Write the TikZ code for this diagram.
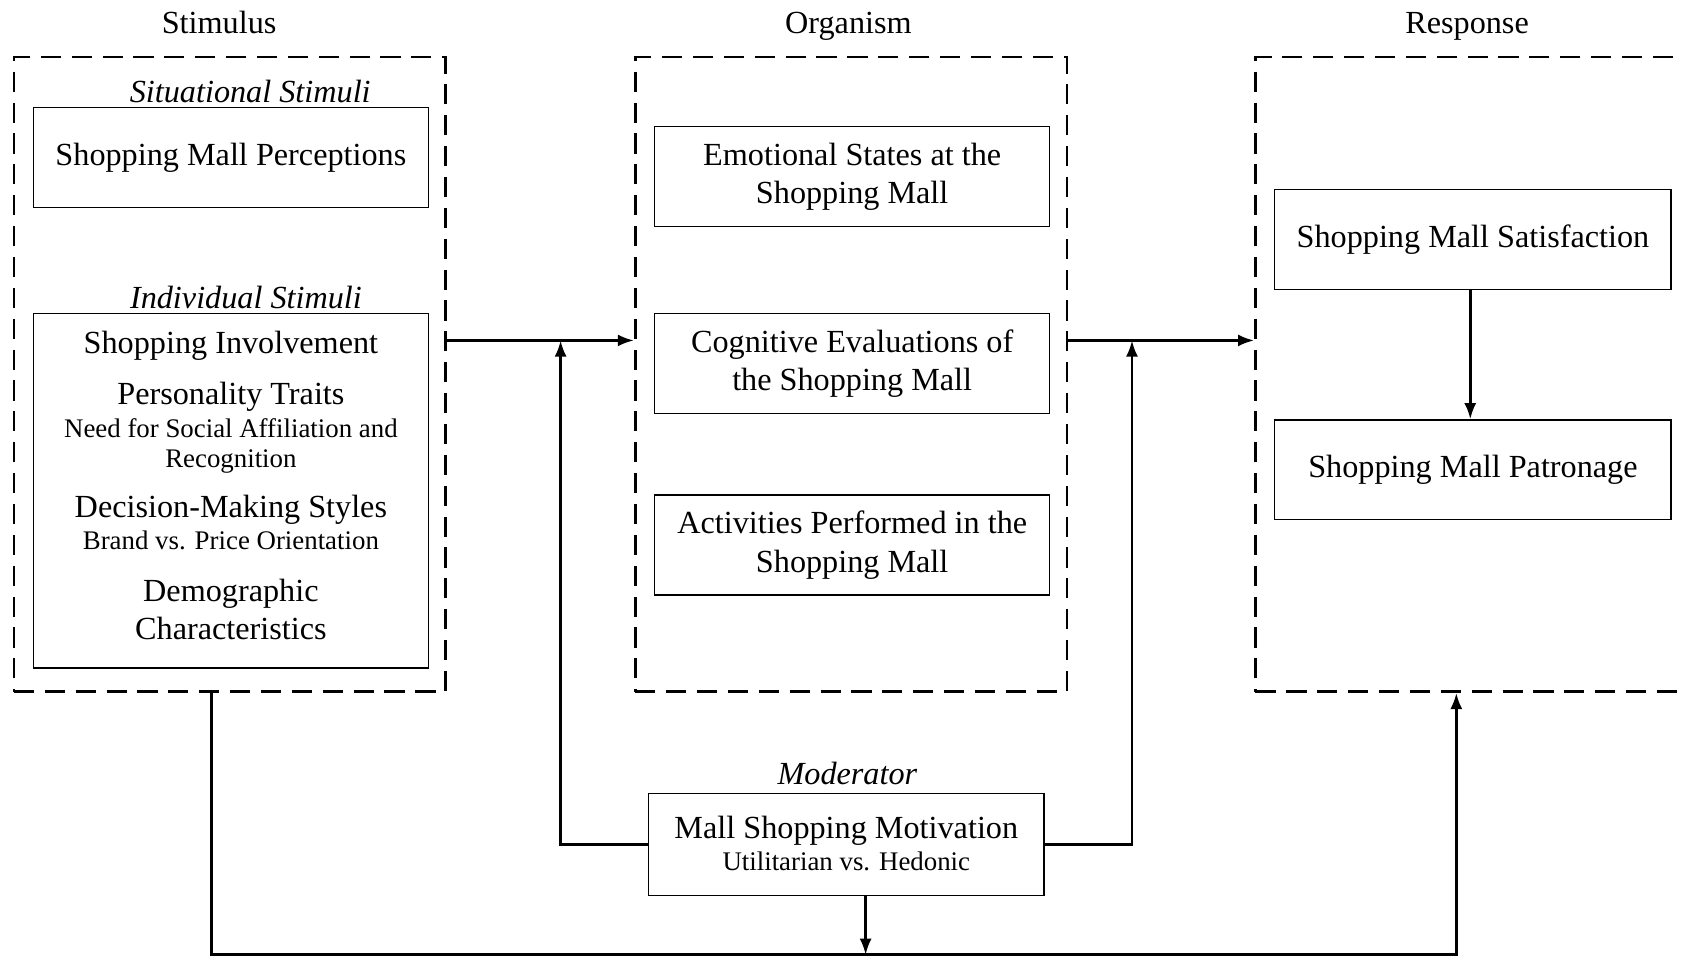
\documentclass[tikz,border=0pt]{standalone}
\usepackage{fontspec}
\setmainfont{Liberation Serif}
\usetikzlibrary{arrows.meta}

\tikzstyle{grp}=[draw, dash pattern=on 7.5pt off 4pt, line width=1pt, minimum width=160.8pt, minimum height=236.4pt, inner sep=0pt]
\tikzstyle{blk}=[draw, line width=0.5pt, minimum width=147.2pt, minimum height=37.2pt, inner sep=0pt, align=center, font=\fontsize{12}{14.4}\selectfont]
\tikzstyle{big}=[inner sep=0pt, anchor=base, font=\fontsize{12}{14.4}\selectfont]
\tikzstyle{sml}=[inner sep=0pt, anchor=base, font=\fontsize{10}{12}\selectfont]
\tikzstyle{ttl}=[inner sep=0pt, anchor=base, font=\fontsize{12}{14.4}\selectfont\itshape]
\tikzstyle{link}=[line width=1pt, -{Latex[length=6pt,width=4.5pt]}]

\begin{document}
\begin{tikzpicture}[x=0.4pt,y=-0.4pt]
        \useasboundingbox (0,0) rectangle (1568,891);
        % groups
        \draw (204,31)  node[big](stimt){Stimulus};
        \draw (790,31)  node[big](orgt){Organism};
        \draw (1366,31) node[big](respt){Response};
        \draw (214,348.5)  node[grp](stim){};
        \draw (792.5,348.5) node[grp](org){};
        \draw (1370,348.5) node[grp](resp){};
        % stimulus
        \draw (233,95)  node[ttl](sit){Situational Stimuli};
        \draw (215,146.5) node[blk](perc){Shopping Mall Perceptions};
        \draw (229,287) node[ttl](ind){Individual Stimuli};
        \draw (215,457) node[blk, minimum height=132pt](indv){};
        \draw (215,329) node[big](inv){Shopping Involvement};
        \draw (215,377) node[big](pers){Personality Traits};
        \draw (215,407) node[sml](need){Need for Social Affiliation and};
        \draw (215,435) node[sml](recg){Recognition};
        \draw (215,482) node[big](dec){Decision-Making Styles};
        \draw (215,512) node[sml](brand){Brand vs. Price Orientation};
        \draw (215,560) node[big](demo){Demographic};
        \draw (215,595) node[big](chars){Characteristics};
        % organism
        \draw (793.5,164.5) node[blk](emo){Emotional States at the\\Shopping Mall};
        \draw (793.5,338.5) node[blk](cog){Cognitive Evaluations of\\the Shopping Mall};
        \draw (793.5,507.5) node[blk](act){Activities Performed in the\\Shopping Mall};
        % response
        \draw (1371.5,223)   node[blk, minimum width=147.6pt](sat){Shopping Mall Satisfaction};
        \draw (1371.5,437.5) node[blk, minimum width=147.6pt](pat){Shopping Mall Patronage};
        % moderator
        \draw (789,730)   node[ttl](modt){Moderator};
        \draw (788,786.5) node[blk, minimum height=38pt](mot){};
        \draw (788,781)   node[big](mott){Mall Shopping Motivation};
        \draw (788,811)   node[sml](util){Utilitarian vs. Hedonic};
        %
        \coordinate (ja) at (522,317);
        \coordinate (jb) at (1054,317);
        \coordinate (jc) at (806,889);
        \coordinate (jl) at (197,889);
        \coordinate (jr) at (1356,889);
        \draw[link] (stim.east |- ja) -- (org.west |- ja);
        \draw[link] (org.east |- jb) -- (resp.west |- jb);
        \draw[link] (sat.south -| 1369,0) -- (pat.north -| 1369,0);
        \draw[link] (mot.west) -| (ja);
        \draw[link] (mot.east) -| (jb);
        \draw[link] (mot.south -| jc) -- (jc);
        \draw[link] (stim.south -| jl) -- (jl) -- (jr) -- (resp.south -| jr);
        %;
\end{tikzpicture}
\end{document}
